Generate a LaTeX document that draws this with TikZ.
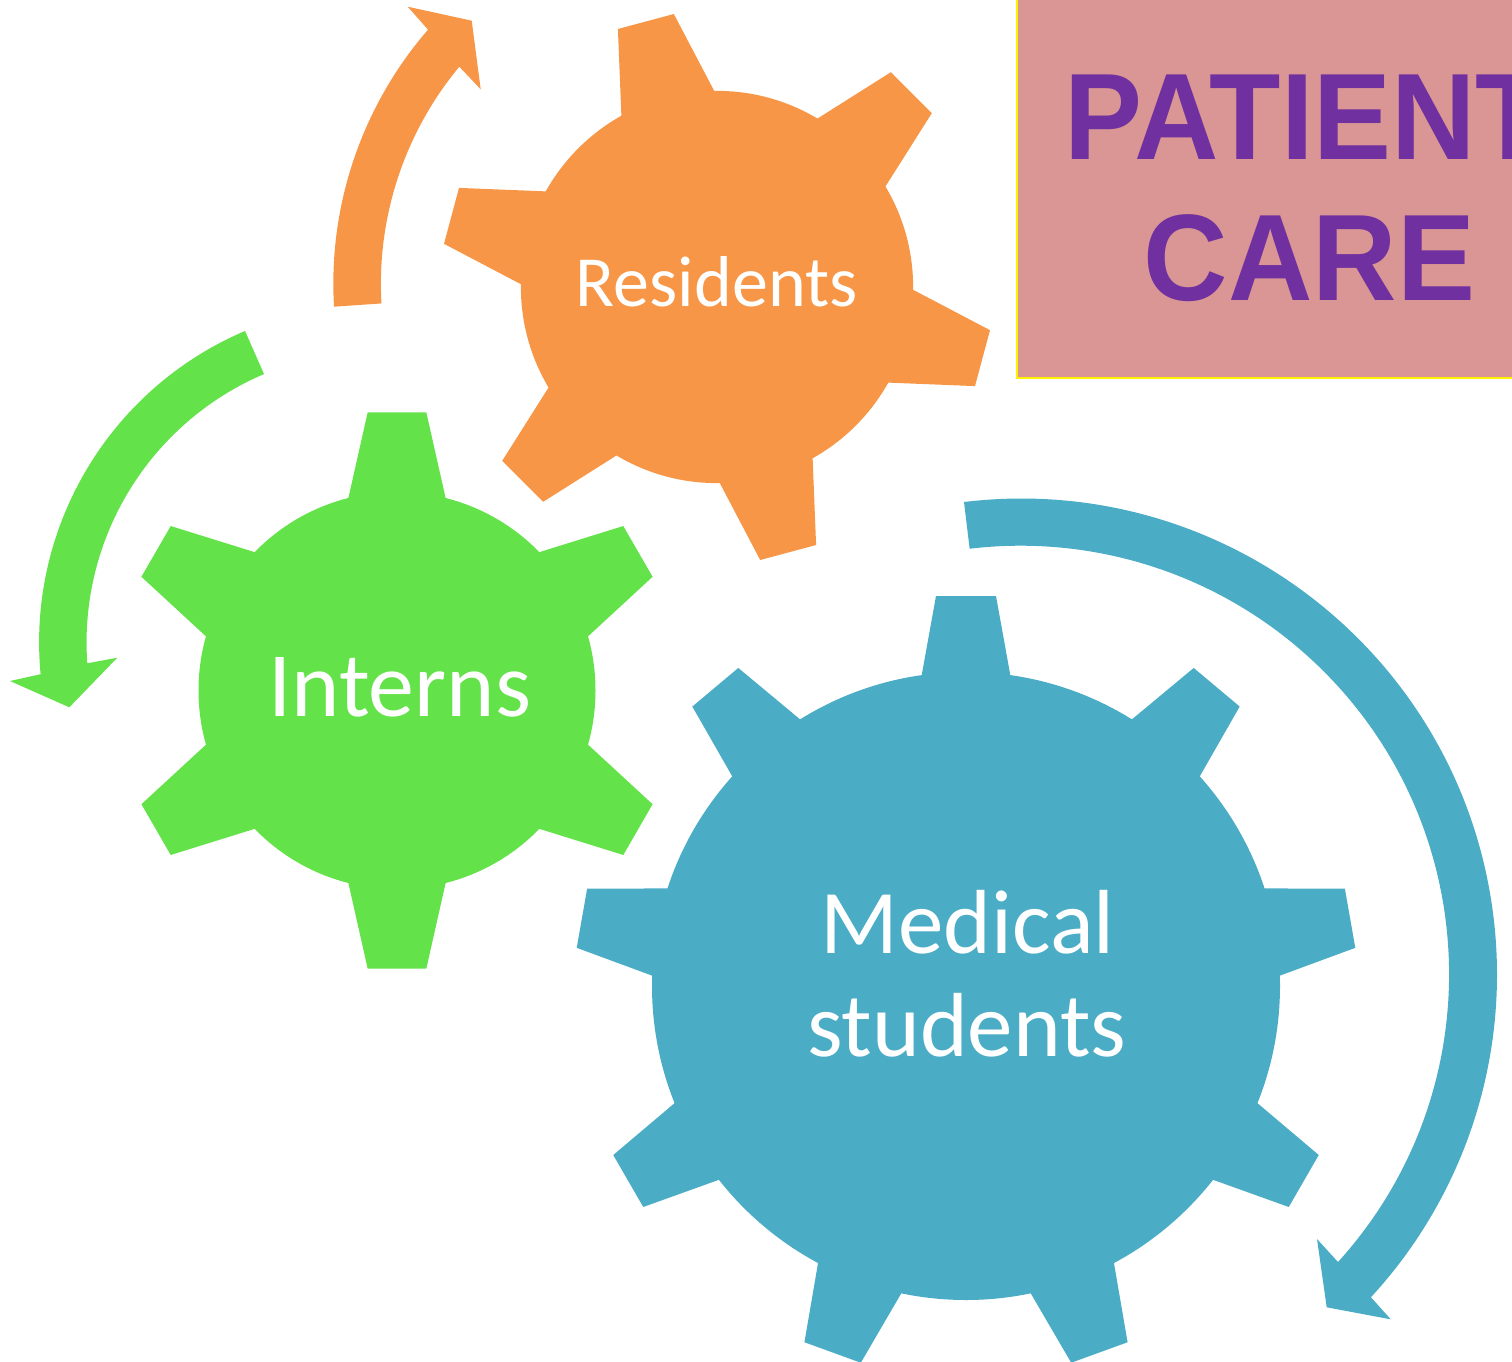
\documentclass[tikz,border=0pt]{standalone}
\usepackage{fontspec}
\setmainfont{Carlito}
\newfontfamily\titlefont{Liberation Sans}[FakeStretch=0.95]
\definecolor{gblue}{RGB}{75,172,198}
\definecolor{gorange}{RGB}{247,150,70}
\definecolor{ggreen}{RGB}{99,226,73}
\definecolor{boxpink}{RGB}{217,150,148}
\definecolor{titlepurple}{RGB}{112,48,160}
\tikzset{
  gearlabel/.style={text=white, inner sep=0pt, anchor=base},
  titletext/.style={text=titlepurple, inner sep=0pt, anchor=base, font=\titlefont\bfseries\fontsize{123}{140}\selectfont},
}
\begin{document}
\begin{tikzpicture}[x=1pt,y=1pt]
\useasboundingbox (0,0) rectangle (1512,-1362);
\clip (0,0) rectangle (1512,-1362);
% title box
\fill[boxpink] (1017,10) rectangle (1530,-378);
\draw[yellow, line width=1.5pt] (1017,10) -- (1017,-378) -- (1530,-378);
\node[titletext] (t1) at (1306,-160) {PATIENT};
\node[titletext] (t2) at (1309.5,-300) {CARE};

% green gear (Interns)
\begin{scope}[shift={(397,-690.5)}]
  \fill[ggreen] (0,0) circle[radius=198.5];
  \foreach \a in {90,150,...,390}
    \fill[ggreen, rotate=\a] (150,-58.2) -- (278.2,-29.3) -- (278.2,29.3) -- (150,58.2) -- cycle;
\end{scope}

% orange gear (Residents)
\begin{scope}[shift={(717,-287)}, scale=0.988]
  \fill[gorange] (0,0) circle[radius=198.5];
  \foreach \a in {105,165,...,405}
    \fill[gorange, rotate=\a] (150,-58.2) -- (278.2,-29.3) -- (278.2,29.3) -- (150,58.2) -- cycle;
\end{scope}

% blue gear (Medical students)
\begin{scope}[shift={(966,-986)}]
  \fill[gblue] (0,0) circle[radius=314];
  \foreach \a in {90,130,...,410}
    \fill[gblue, rotate=\a] (250,-55.3) -- (390,-30) -- (390,30) -- (250,55.3) -- cycle;
\end{scope}

% circular arrows
\fill[gorange] (334,-306.7) arc[start angle=183.4, end angle=139.1, radius=388]
  -- (407.7,-6.7) -- (471.7,-20.7) -- (480.7,-89.3) -- (459.3,-66.7)
  arc[start angle=140.3, end angle=183.3, radius=340] -- cycle;

\fill[ggreen] (245,-331) arc[start angle=113.05, end angle=185.4, radius=338.4]
  -- (10,-681) -- (69.3,-707.3) -- (117.3,-657.7) -- (87.3,-663.3)
  arc[start angle=184.1, end angle=113.05, radius=291.7] -- cycle;

\fill[gblue] (964,-502) arc[start angle=96.88, end angle=-42.68, radius=476]
  -- (1390.7,-1319.3) -- (1326.7,-1307.3) -- (1317,-1239) -- (1338,-1262)
  arc[start angle=-42.2, end angle=96.83, radius=428.5] -- cycle;

% labels
\node[gearlabel, font=\fontsize{72}{82}\selectfont] (res) at (716.7,-306.7) {Residents};
\node[gearlabel, font=\fontsize{92}{100}\selectfont] (int) at (399.7,-716) {Interns};
\node[gearlabel, font=\fontsize{91}{100}\selectfont] (med1) at (967.5,-953.3) {Medical};
\node[gearlabel, font=\fontsize{91}{100}\selectfont] (med2) at (966.7,-1056.7) {students};
\end{tikzpicture}
\end{document}
